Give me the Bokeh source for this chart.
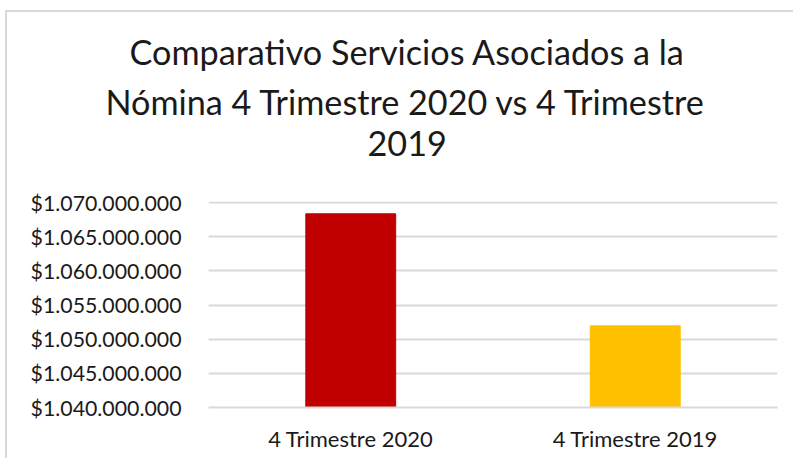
from bokeh.plotting import figure
from bokeh.models import Range1d, FactorRange, FixedTicker, Title, ColumnDataSource
from bokeh.embed import file_html
from bokeh.resources import INLINE

# Data
categories = ["4 Trimestre 2020", "4 Trimestre 2019"]
values = [1068350000, 1051950000]
bar_colors = ["#C00000", "#FFC000"]
tick_values = [1040000000, 1045000000, 1050000000, 1055000000, 1060000000, 1065000000, 1070000000]
tick_labels = ["$1.040.000.000", "$1.045.000.000", "$1.050.000.000", "$1.055.000.000",
               "$1.060.000.000", "$1.065.000.000", "$1.070.000.000"]
title_lines = ["Comparativo Servicios Asociados a la",
               "Nómina 4 Trimestre 2020 vs 4 Trimestre",
               "2019"]
y_start = 1040000000
y_end = 1070000000

FONT = "Lato"
TXT = "#1a1a1a"

p = figure(x_range=FactorRange(*categories), y_range=Range1d(y_start, y_end + 150000),
           width=788, height=448, output_backend="svg", toolbar_location=None,
           min_border_left=201, min_border_right=18, min_border_bottom=53, min_border_top=189)
p.styles = {"border-left": "2px solid #d9d9d9", "border-top": "2px solid #d9d9d9",
            "margin-left": "5px", "margin-top": "10px"}

src = ColumnDataSource(dict(cat=categories, val=values, color=bar_colors,
                            bottom=[y_start] * len(values)))
p.vbar(x="cat", top="val", bottom="bottom", width=0.316, color="color", source=src)

# spacer between the plot frame and the last title line
p.add_layout(Title(text=" ", text_font=FONT, text_font_size="33px", standoff=0), "above")
# title lines (left-aligned with offsets so each line is centred at the chart centre)
title_offsets = [-79, -103, 159]
for line, off in reversed(list(zip(title_lines, title_offsets))):
    p.add_layout(Title(text=line, align="left", offset=off, standoff=7.4,
                       text_font=FONT, text_font_size="34.2px", text_font_style="normal",
                       text_color=TXT), "above")

p.outline_line_color = None
p.xgrid.grid_line_color = None
p.ygrid.grid_line_color = "#d9d9d9"
p.ygrid.grid_line_width = 2
p.yaxis.ticker = FixedTicker(ticks=tick_values)
p.yaxis.major_label_overrides = {v: l for v, l in zip(tick_values, tick_labels)}
p.yaxis.axis_line_color = None
p.yaxis.major_tick_line_color = None
p.yaxis.minor_tick_line_color = None
p.yaxis.major_label_text_font = FONT
p.yaxis.major_label_text_font_size = "21.3px"
p.yaxis.major_label_text_color = TXT
p.yaxis.major_label_standoff = 21

p.xaxis.axis_line_color = "#d9d9d9"
p.xaxis.axis_line_width = 2
p.xaxis.major_tick_line_color = None
p.xaxis.minor_tick_line_color = None
p.xaxis.major_label_text_font = FONT
p.xaxis.major_label_text_font_size = "22px"
p.xaxis.major_label_text_color = TXT
p.xaxis.major_label_standoff = 11

open("out.html", "w").write(file_html(p, INLINE))
